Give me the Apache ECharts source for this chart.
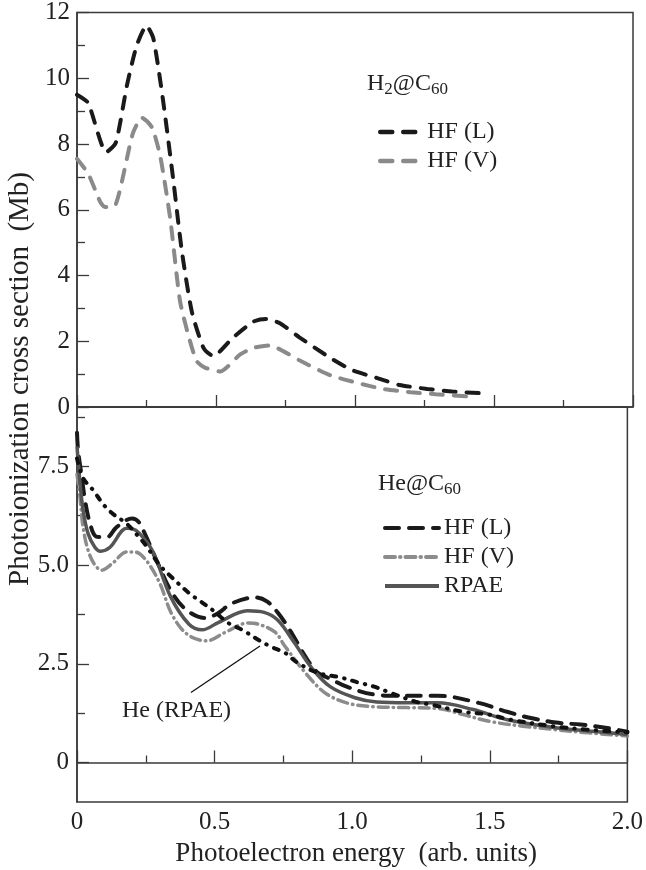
<!DOCTYPE html>
<html lang="en">
  <head>
    <meta charset="UTF-8" />
    <title>H2@C60 / He@C60 photoionization</title>
    <script src="https://cdn.jsdelivr.net/npm/echarts@6/dist/echarts.min.js"></script>
    <style>
      html,
      body {
        margin: 0;
        padding: 0;
        background: #fff;
      }
      #main {
        width: 646px;
        height: 870px;
      }
    </style>
  </head>

  <body>
    <div id="main"></div>
  </body>
  <script>
    // upper panel, H2@C60  [energy, Mb]
    var h2HfL = [
      [0, 9.5], [0.04, 9.25], [0.105, 7.75], [0.14, 8.05], [0.18, 9.8],
      [0.215, 11.0], [0.25, 11.6], [0.275, 11.2], [0.31, 9.3], [0.345, 7.0],
      [0.377, 4.75], [0.413, 2.9], [0.455, 1.8], [0.49, 1.55], [0.56, 2.1],
      [0.635, 2.6], [0.68, 2.68], [0.73, 2.55], [0.8, 2.12], [0.91, 1.5],
      [0.99, 1.12], [1.08, 0.88], [1.16, 0.67], [1.26, 0.55], [1.35, 0.47],
      [1.45, 0.42]
    ];
    var h2HfV = [
      [0, 7.55], [0.04, 7.1], [0.083, 6.25], [0.1, 6.08], [0.137, 6.12],
      [0.2, 8.3], [0.233, 8.8], [0.27, 8.5], [0.3, 7.6], [0.335, 5.75],
      [0.37, 3.25], [0.4, 2.2], [0.43, 1.4], [0.46, 1.2], [0.515, 1.08],
      [0.587, 1.6], [0.635, 1.8], [0.695, 1.87], [0.742, 1.7], [0.8, 1.42],
      [0.91, 0.97], [1.01, 0.73], [1.1, 0.55], [1.2, 0.45], [1.29, 0.39],
      [1.41, 0.32]
    ];

    // lower panel, He@C60
    var heHfL = [
      [0, 8.35], [0.004, 7.9], [0.018, 7.2], [0.029, 6.64], [0.047, 6.06],
      [0.07, 5.72], [0.108, 5.7], [0.144, 5.96], [0.2, 6.18], [0.227, 6.06],
      [0.29, 5.1], [0.345, 4.3], [0.4, 3.85], [0.465, 3.66], [0.515, 3.79],
      [0.56, 4.02], [0.647, 4.18], [0.69, 4.08], [0.73, 3.79], [0.78, 3.28],
      [0.83, 2.68], [0.875, 2.27], [0.92, 2.12], [0.98, 1.92], [1.08, 1.72],
      [1.17, 1.69], [1.31, 1.69], [1.46, 1.51], [1.56, 1.29], [1.64, 1.14],
      [1.74, 1.01], [1.83, 0.96], [1.92, 0.88], [2.0, 0.78]
    ];
    var heHfV = [
      [0, 7.3], [0.011, 6.7], [0.022, 5.96], [0.04, 5.38], [0.065, 5.0],
      [0.09, 4.87], [0.13, 5.05], [0.18, 5.33], [0.21, 5.33], [0.25, 5.13],
      [0.3, 4.55], [0.345, 3.75], [0.4, 3.25], [0.47, 3.08], [0.54, 3.3],
      [0.62, 3.53], [0.66, 3.5], [0.72, 3.3], [0.755, 2.95], [0.83, 2.27],
      [0.9, 1.77], [0.98, 1.51], [1.08, 1.41], [1.2, 1.39], [1.32, 1.36],
      [1.4, 1.22], [1.5, 1.04], [1.62, 0.92], [1.74, 0.83], [1.86, 0.75],
      [2.0, 0.67]
    ];
    var heRpae = [
      [0, 8.0], [0.011, 7.07], [0.022, 6.4], [0.04, 5.8], [0.065, 5.45],
      [0.085, 5.35], [0.12, 5.45], [0.18, 5.93], [0.2, 5.92], [0.227, 5.8],
      [0.275, 5.35], [0.34, 4.2], [0.407, 3.5], [0.455, 3.36], [0.515, 3.55],
      [0.62, 3.84], [0.68, 3.8], [0.73, 3.6], [0.79, 3.03], [0.85, 2.42],
      [0.92, 1.92], [1.01, 1.64], [1.09, 1.53], [1.2, 1.51], [1.31, 1.51],
      [1.44, 1.34], [1.56, 1.09], [1.74, 0.88], [1.86, 0.8], [2.0, 0.71]
    ];
    // free He atom, RPAE
    var heFree = [
      [0, 7.7], [0.022, 7.2], [0.058, 6.9], [0.1, 6.5], [0.137, 6.26],
      [0.18, 6.05], [0.216, 5.78], [0.25, 5.5], [0.3, 5.0], [0.335, 4.75],
      [0.407, 4.29], [0.455, 4.05], [0.5, 3.82], [0.55, 3.53], [0.6, 3.36],
      [0.66, 3.1], [0.705, 2.93], [0.755, 2.78], [0.8, 2.53], [0.875, 2.27],
      [0.96, 2.15], [1.02, 2.03], [1.08, 1.92], [1.13, 1.79], [1.23, 1.54],
      [1.29, 1.46], [1.4, 1.29], [1.5, 1.21], [1.57, 1.09], [1.74, 0.91],
      [1.86, 0.83], [2.0, 0.76]
    ];

    var lowerLabels = [0, 2.5, 5, 7.5];
    var lowerMinor = [1.25, 3.75, 6.25, 8.75];
    var energyTicks = [0, 0.5, 1, 1.5, 2];

    var serif = "Liberation Serif";
    var ink = "#222";
    var frame = "#3a3a3a";

    function fmt(v) {
      return v === 0 ? "0" : v.toFixed(1);
    }

    var chart = echarts.init(document.getElementById("main"));

    var axisLine = { show: true, lineStyle: { color: frame, width: 1.5 } };
    var tickStyle = { color: frame, width: 1.3 };
    var labelStyle = { fontFamily: serif, fontSize: 25, color: ink };
    var legendText = { fontFamily: serif, fontSize: 24, color: ink, lineHeight: 24 };

    option = {
      animation: false,
      backgroundColor: "#fff",
      grid: [
        { left: 77, top: 11, width: 556, height: 396, show: true, borderColor: frame, borderWidth: 1.5 },
        { left: 77, top: 407, width: 556, height: 395, show: true, borderColor: frame, borderWidth: 1.5 }
      ],
      xAxis: [
        {
          gridIndex: 0, type: "value", min: 0, max: 2, interval: 0.5,
          axisLine: axisLine,
          axisTick: { inside: true, length: 12, lineStyle: tickStyle },
          minorTick: { show: true, splitNumber: 2, length: 7, lineStyle: tickStyle },
          axisLabel: { show: false },
          splitLine: { show: false }
        },
        {
          gridIndex: 1, type: "value", min: 0, max: 2, interval: 0.5,
          axisLine: axisLine,
          axisTick: { inside: true, length: 12, lineStyle: tickStyle },
          minorTick: { show: true, splitNumber: 2, length: 7, lineStyle: tickStyle },
          axisLabel: Object.assign({ margin: 8, formatter: fmt, customValues: energyTicks }, labelStyle),
          splitLine: { show: false },
          name: "Photoelectron energy  (arb. units)",
          nameLocation: "middle",
          nameGap: 38,
          nameTextStyle: { fontFamily: serif, fontSize: 27, color: ink, padding: [0, 0, 0, 8] }
        }
      ],
      yAxis: [
        {
          gridIndex: 0, type: "value", min: 0, max: 12, interval: 2,
          axisLine: axisLine,
          axisTick: { inside: true, length: 12, lineStyle: tickStyle },
          minorTick: { show: true, splitNumber: 2, length: 8, lineStyle: tickStyle },
          axisLabel: Object.assign({ margin: 7 }, labelStyle),
          splitLine: { show: false }
        },
        {
          gridIndex: 1, type: "value", min: -1, max: 9,
          axisLine: axisLine,
          axisTick: { inside: true, length: 12, lineStyle: tickStyle, customValues: lowerLabels },
          axisLabel: Object.assign({ margin: 8, formatter: fmt, customValues: lowerLabels }, labelStyle),
          splitLine: { show: false }
        },
        {
          // minor ticks of the lower panel
          gridIndex: 1, type: "value", min: -1, max: 9, position: "left",
          axisLine: { show: false },
          axisTick: { inside: true, length: 8, lineStyle: tickStyle, customValues: lowerMinor },
          axisLabel: { show: false },
          splitLine: { show: false }
        }
      ],
      legend: [
        {
          orient: "vertical", left: 373, top: 115, itemWidth: 42, itemHeight: 14, itemGap: 5,
          data: ["H2|HF (L)", "H2|HF (V)"],
          formatter: function (n) { return n.split("|")[1]; },
          itemStyle: { opacity: 0 },
          lineStyle: { width: 4.5 },
          textStyle: legendText,
          selectedMode: false
        },
        {
          orient: "vertical", left: 378, top: 511, itemWidth: 54, itemHeight: 14, itemGap: 5,
          data: ["He|HF (L)", "He|HF (V)", "He|RPAE"],
          formatter: function (n) { return n.split("|")[1]; },
          itemStyle: { opacity: 0 },
          lineStyle: { width: 4 },
          textStyle: legendText,
          selectedMode: false
        }
      ],
      graphic: [
        {
          type: "text", left: 367, top: 72,
          style: {
            text: "H{s|2}@C{s|60}",
            font: "24px " + serif, fill: ink,
            rich: { s: { fontSize: 17, fontFamily: serif, fill: ink, padding: [12, 0, 0, 0] } }
          }
        },
        {
          type: "text", left: 378, top: 472,
          style: {
            text: "He@C{s|60}",
            font: "24px " + serif, fill: ink,
            rich: { s: { fontSize: 17, fontFamily: serif, fill: ink, padding: [12, 0, 0, 0] } }
          }
        },
        {
          type: "text", left: 122, top: 699,
          style: { text: "He (RPAE)", font: "24px " + serif, fill: ink }
        },
        {
          type: "text", x: 20, y: 379, rotation: Math.PI / 2,
          style: {
            text: "Photoionization cross section  (Mb)",
            font: "29px " + serif, fill: ink,
            align: "center", verticalAlign: "middle"
          }
        }
      ],
      series: [
        {
          name: "H2|HF (L)", type: "line", xAxisIndex: 0, yAxisIndex: 0,
          data: h2HfL, symbol: "none", smooth: 0.2,
          lineStyle: { color: "#1a1a1a", width: 4, type: [12, 11], cap: "round" },
          itemStyle: { color: "#1a1a1a" }
        },
        {
          name: "H2|HF (V)", type: "line", xAxisIndex: 0, yAxisIndex: 0,
          data: h2HfV, symbol: "none", smooth: 0.2,
          lineStyle: { color: "#8a8a8a", width: 4, type: [12, 11], cap: "round" },
          itemStyle: { color: "#8a8a8a" }
        },
        {
          name: "He|HF (L)", type: "line", xAxisIndex: 1, yAxisIndex: 1,
          data: heHfL, symbol: "none", smooth: 0.35,
          lineStyle: { color: "#1a1a1a", width: 4, type: [14, 10], cap: "round" },
          itemStyle: { color: "#1a1a1a" }
        },
        {
          name: "He|HF (V)", type: "line", xAxisIndex: 1, yAxisIndex: 1,
          data: heHfV, symbol: "none", smooth: 0.35,
          lineStyle: { color: "#8c8c8c", width: 3.5, type: [10, 5, 0.5, 5], cap: "round" },
          itemStyle: { color: "#8c8c8c" }
        },
        {
          name: "He|RPAE", type: "line", xAxisIndex: 1, yAxisIndex: 1,
          data: heRpae, symbol: "none", smooth: 0.35,
          lineStyle: { color: "#555", width: 3.5 },
          itemStyle: { color: "#555" }
        },
        {
          name: "He (RPAE)", type: "line", xAxisIndex: 1, yAxisIndex: 1,
          data: heFree, symbol: "none", smooth: 0.35,
          lineStyle: { color: "#111", width: 4, type: [5, 8, 0.5, 8], cap: "round" },
          itemStyle: { color: "#111" },
          markLine: {
            silent: true, symbol: ["none", "none"], label: { show: false },
            lineStyle: { color: "#111", width: 1.3, type: "solid" },
            data: [[{ coord: [0.414, 1.77] }, { coord: [0.665, 2.95] }]]
          }
        }
      ]
    };
    chart.setOption(option);
  </script>
</html>
